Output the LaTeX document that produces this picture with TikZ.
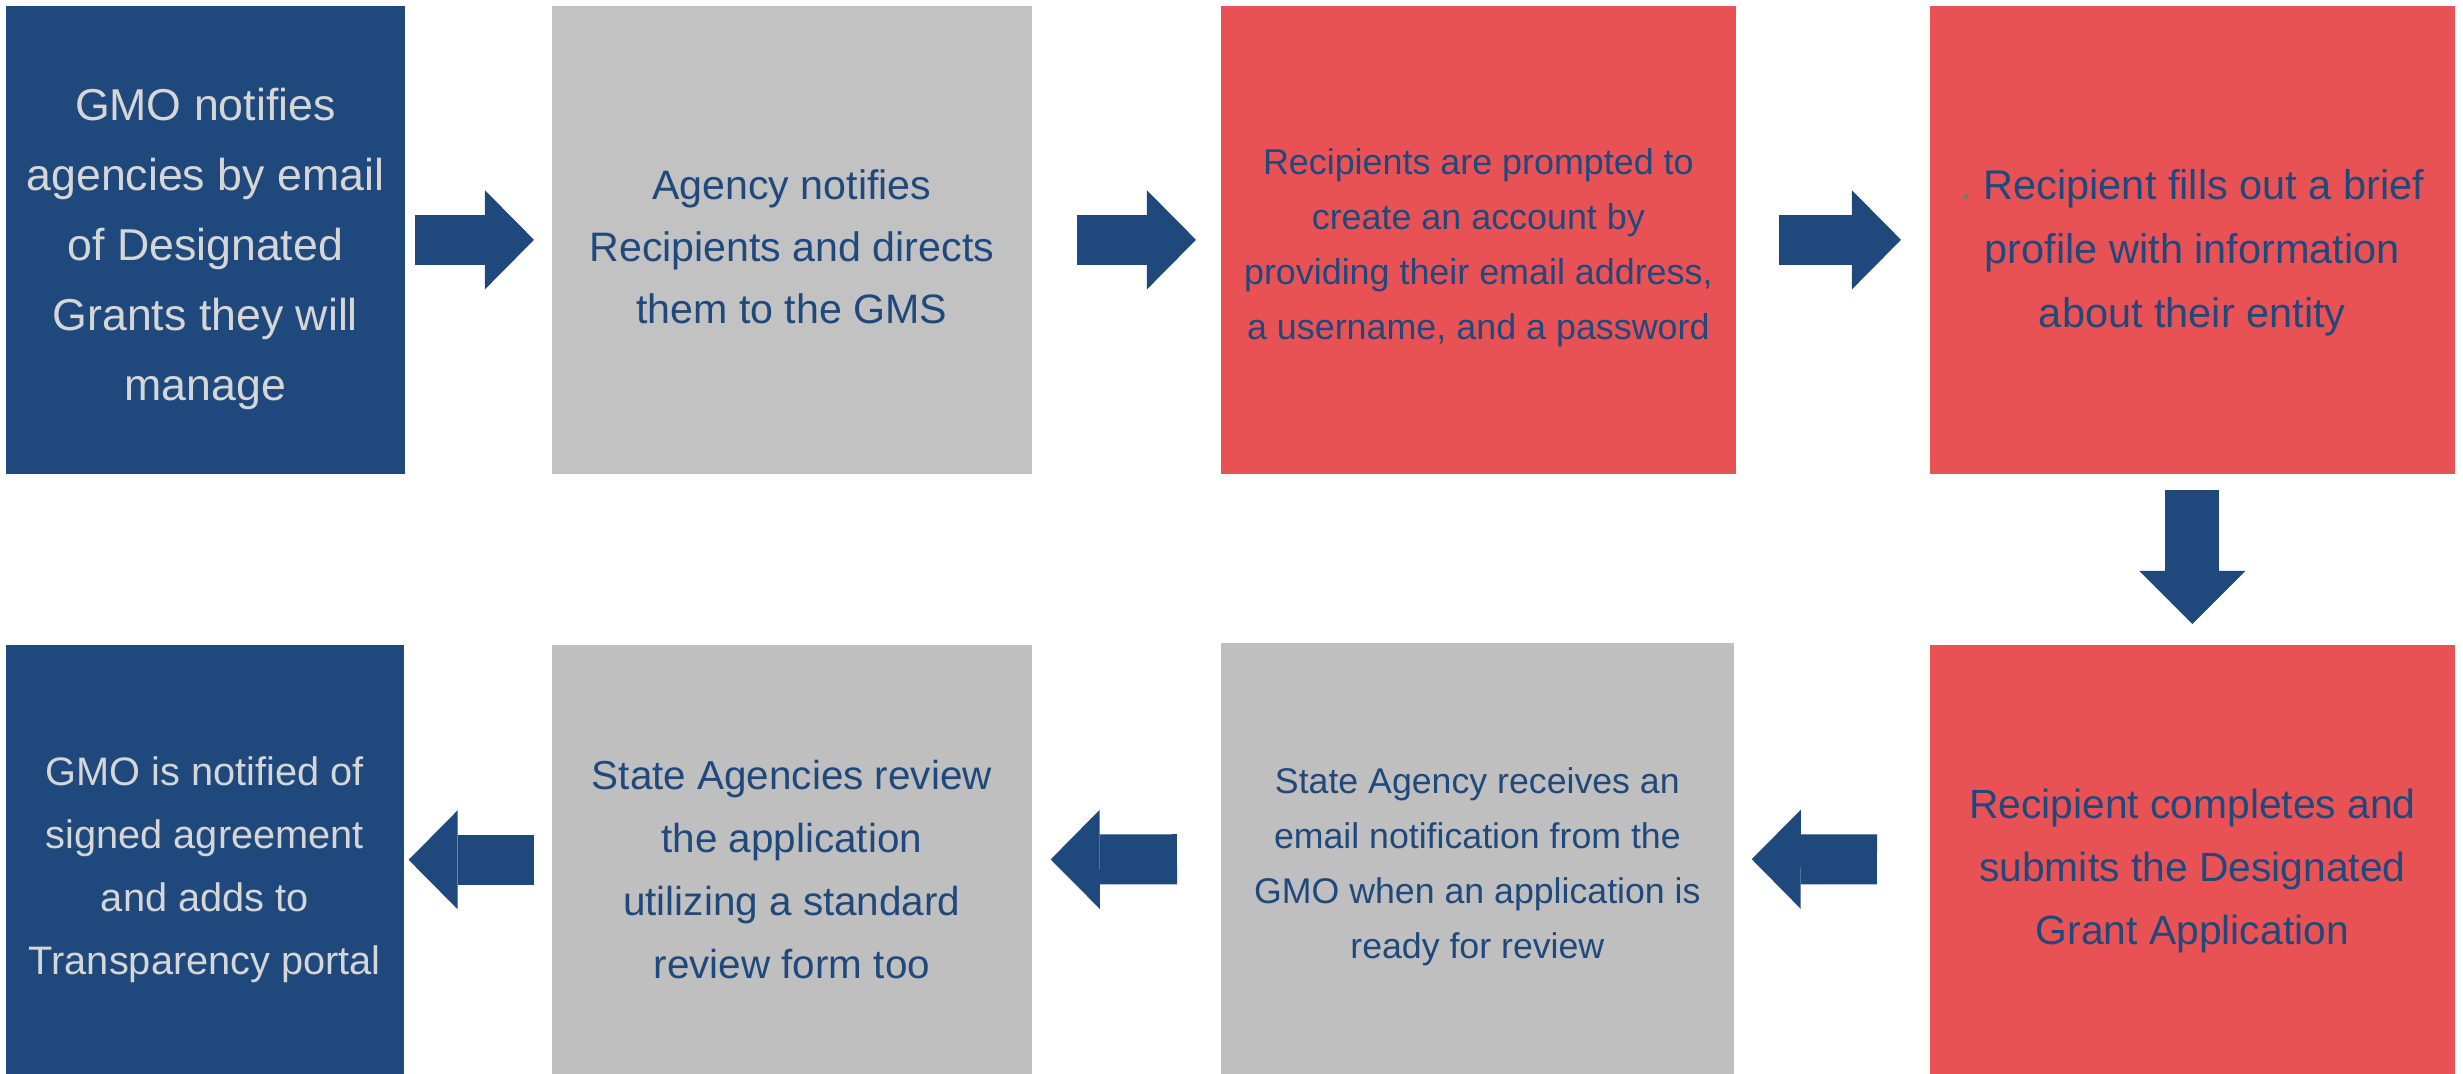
\documentclass[tikz,border=0pt]{standalone}
\usepackage{fontspec}
\setmainfont{Liberation Sans}
\usepackage{xcolor}
\usetikzlibrary{arrows.meta}

\definecolor{gmoblue}{HTML}{1F497D}
\definecolor{gmored}{HTML}{E95254}
\definecolor{gmogray}{HTML}{C2C2C2}
\definecolor{gmograyb}{HTML}{BFBFBF}
\definecolor{gmolight}{HTML}{D6D6D6}
\definecolor{dotgray}{HTML}{767676}

\tikzstyle{stepbox} = [rectangle, anchor=north west, inner sep=0pt]
\tikzstyle{steptext} = [align=center, inner sep=0pt, text=gmoblue]
\tikzstyle{flowarrow} = [draw=gmoblue, line width=5mm, -{Triangle[length=4.9mm,width=9.9mm,line width=0pt]}]

\begin{document}
\begin{tikzpicture}[x=0.01cm, y=-0.01cm,
		bluestep/.style = {stepbox, fill=gmoblue},
		graystep/.style = {stepbox, fill=#1},
		graystep/.default = gmogray,
		redstep/.style = {stepbox, fill=gmored},
		]
		\useasboundingbox (0,0) rectangle (2463,1074);
		% top row
		\node[bluestep, minimum width=3.99cm, minimum height=4.68cm] (gmo) at (5,5) {};
		\node[steptext, text=gmolight, font=\fontsize{12.7}{19.9}\selectfont]
		(gmotext) at ([yshift=-0.09cm]gmo.center)
		{GMO notifies\\agencies by email\\of Designated\\Grants they will\\manage};
		
		\node[graystep, minimum width=4.80cm, minimum height=4.68cm] (agency) at (551,5) {};
		\node[steptext, font=\fontsize{11.7}{17.6}\selectfont]
		(agencytext) at ([yshift=-0.07cm]agency.center)
		{Agency notifies\\Recipients and directs\\them to the GMS};
		
		\node[redstep, minimum width=5.15cm, minimum height=4.68cm] (account) at (1220,5) {};
		\node[steptext, font=\fontsize{10.2}{15.6}\selectfont]
		(accounttext) at ([yshift=-0.08cm]account.center)
		{Recipients are prompted to\\create an account by\\providing their email address,\\a username, and a password};
		
		\node[redstep, minimum width=5.25cm, minimum height=4.68cm] (profile) at (1929,5) {};
		\node[steptext, font=\fontsize{11.8}{18.2}\selectfont]
		(profiletext) at ([yshift=-0.125cm]profile.center)
		{{\color{dotgray}.}\ Recipient fills out a brief\\profile with information\\about their entity};
		
		% bottom row
		\node[redstep, minimum width=5.25cm, minimum height=4.30cm] (submit) at (1929,644) {};
		\node[steptext, font=\fontsize{11.6}{17.9}\selectfont]
		(submittext) at ([yshift=-0.11cm]submit.center)
		{Recipient completes and\\submits the Designated\\Grant Application};
		
		\node[graystep=gmograyb, minimum width=5.13cm, minimum height=4.32cm] (notice) at (1220,642) {};
		\node[steptext, font=\fontsize{10.15}{15.6}\selectfont]
		(noticetext) at ([yshift=-0.08cm]notice.center)
		{State Agency receives an\\email notification from the\\GMO when an application is\\ready for review};
		
		\node[graystep=gmograyb, minimum width=4.80cm, minimum height=4.30cm] (review) at (551,644) {};
		\node[steptext, font=\fontsize{11.5}{17.9}\selectfont]
		(reviewtext) at ([yshift=-0.095cm]review.center)
		{State Agencies review\\the application\\utilizing a standard\\review form too};
		
		\node[bluestep, minimum width=3.98cm, minimum height=4.30cm] (portal) at (5,644) {};
		\node[steptext, text=gmolight, font=\fontsize{11.3}{17.9}\selectfont]
		(portaltext) at ([yshift=-0.095cm]portal.center)
		{GMO is notified of\\signed agreement\\and adds to\\Transparency portal};
		
		\draw[flowarrow, shorten <=0.09cm, shorten >=0.17cm] (gmo) -- (agency);
		\draw[flowarrow, shorten <=0.44cm, shorten >=0.24cm] (agency) -- (account);
		\draw[flowarrow, shorten <=0.42cm, shorten >=0.28cm] (account) -- (profile);
		\draw[flowarrow, line width=5.4mm, -{Triangle[length=5.3mm,width=10.6mm,line width=0pt]},
		shorten <=0.15cm, shorten >=0.20cm] (profile) -- (submit);
		\draw[flowarrow, shorten <=0.52cm, shorten >=0.17cm] (submit) -- (notice);
		\draw[flowarrow, shorten <=0.43cm, shorten >=0.18cm] (notice) -- (review);
		\draw[flowarrow, shorten <=0.17cm, shorten >=0.04cm] (review) -- (portal);
\end{tikzpicture}
\end{document}
